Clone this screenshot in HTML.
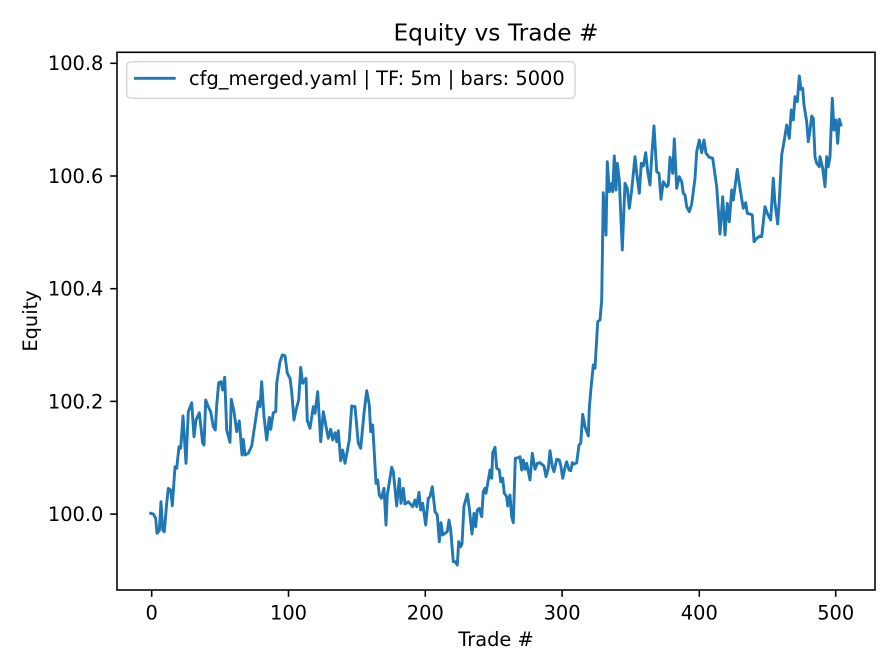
<!DOCTYPE html>
<html>
<head>
<meta charset="utf-8">
<style>
html,body{margin:0;padding:0;background:#fff;}
svg{display:block;}
text{font-family:"DejaVu Sans","Liberation Sans",sans-serif;fill:#000;}
</style>
</head>
<body>
<svg width="896" height="672" viewBox="0 0 896 672" xmlns="http://www.w3.org/2000/svg">
<rect x="0" y="0" width="896" height="672" fill="#fff"/>
<!-- data line -->
<polyline fill="none" stroke="#1f77b4" stroke-width="2.9" stroke-linejoin="round" stroke-linecap="square" points="
150.7,513.3 153.3,514 155.7,518.3 157,533.3 159.3,530.7 161,501.7 162.7,530 164.3,531.7 166.7,503.3 168.3,488.3 170.7,490 172.3,505.7 175,466.7 176.7,468.3 179,446.7 180.7,448.3 183,416 186,463.3 188.3,411.7 191.7,402.7 194,436.7 196,420 199.3,412.7 202.7,443.3 204,445 205.7,400 208.3,406.7 210.7,411.7 213.3,426.7 215.3,430 216.7,405 218.7,382.7 221,381.7 222.7,390 224.7,377.3 226.7,430 230,442.3 231.3,399.3 234,411.7 236.7,431.7 239.3,421 242,455 243.3,439.3 245,455 248.3,453.3 251.7,446 258.3,401.7 260,406.7 261.7,381.7 264,416.7 266.7,440 269.3,417.3 270.7,429.3 273.3,412.7 275.7,411.7 276.7,383.3 280,361.7 282.3,355 285,355.7 287.3,373.3 290,378.3 291.7,391.7 294,420 296,410 298.7,400 300.7,367.3 302.7,383.3 306,378.3 307.3,420.7 310,428.3 313.3,406.7 315,413.3 317.7,391.7 320.7,441.7 323.3,411.7 326.7,430 328.3,438.3 330.7,429.3 332.7,440 335,432.7 336.7,441.7 338.3,430.7 340.7,460.7 342.7,450 345,463.3 349.3,440 351.7,406 355,406.7 358.3,443.3 360.7,448.3 364,413.3 366.7,390.7 369.3,405 370.7,431.7 372.7,425 376,483.3 377.7,480 379.3,495 381.3,498.3 382.7,493.3 384,488.3 386,525 387.3,495 391.7,467.3 393.3,471.7 396.7,506 399.3,478.7 401,503.3 403.3,488.3 405,504 408.3,501.7 412.7,506.7 415,500 416.7,506.7 419,492.3 420.7,510 422.7,503.3 425.7,525 428.3,498.3 430,496.7 432.3,486.7 435,511.7 437.3,515 439.3,541.7 441,522.7 442.7,535 445,533.3 447.3,531.7 449,520 450.7,530 453.3,561.7 455.3,561.7 457.3,565 458.7,541.7 460.7,546.7 462,544 464,506 467.3,494 469.3,508.3 472,534 474,513.3 475.7,526.7 477.3,510 479.3,508.3 481.7,516.7 483.3,491.7 485,488.3 486,493.3 488.3,480 490,470 491.7,478.3 492.7,452.7 495,447.3 496.7,468.3 499.3,470 500.7,481.7 502.7,478.3 504.3,493.3 506.7,496.7 507.7,506 510,495 511.7,516.7 513.3,522.7 515.3,458.3 518.3,457.7 520,456.7 521.7,470 523.3,460 525,469.3 526.7,463.3 530,480 532.3,453.3 535,469.3 537.3,463.3 540,462.7 544,466 546,476.7 548.3,468.3 550,450.7 552.3,466.7 554,471.7 556.7,459.3 559.3,460 561,466.7 562.7,478.3 565,467.3 566.7,461.7 569,470 570.7,470.7 572.3,462.7 574,464.3 576.7,462.7 579,445 580.7,443.3 582.7,414.3 585,426.7 588.3,436 589.3,408.3 591,388.3 593.3,365 595,368.3 597.7,321.7 600,320 601.7,300 603.3,192.7 606,235 607.3,161.7 609.3,191.7 611.7,183.3 612.7,191.7 614.3,156 616,190 617.3,163.3 619.3,180 622.3,250 625,183.3 627.3,188.3 629.3,208.3 631.7,190 635,156.7 636.7,173.3 639.3,193.3 641.3,163.3 643.3,166 645.7,152.7 647.7,171.7 650,185 651.7,156.7 654,126 656.7,171.7 659,173.3 661,199.3 663.3,181.7 666.7,186.7 668.3,185 670,157.3 672.7,173.3 674.3,139 676.7,188.3 679.3,176.7 681.7,181.7 683.3,193.3 685,195 686.7,206.7 689.3,211.7 691.7,204 695,178.3 696.7,151.7 699.3,140 701.7,152.7 704,140 706,153.3 709.3,157.3 712.7,158.3 716.7,186.7 720,234 722.7,196.7 725,235 727.3,203.3 729.3,221.7 731.7,190 733.3,200 737.3,169.3 740,188.3 743.3,208.3 745.7,202.7 747.3,213.3 750,214 752.3,215 754,241.7 756.7,238.3 760,236 761.7,236.7 765,206.7 767.3,213.3 770.7,220 773.3,178.3 775,203.3 777.7,224 779.3,200 781.7,155 784.3,140 786.7,125 789.3,138.3 791.3,110 793.3,120 795,96.7 797.3,101.7 799.3,76 801,89.3 802.7,88.3 804,105 806.7,121.7 808.3,141.7 810,130 811.7,116 813.3,118.3 815,156.7 816.7,163.3 819.3,166.7 820,156.7 822.7,168.3 825,186.7 826.7,156.7 828.3,166.7 830,156.7 832.3,98.3 834,130 836,120 837.7,143.3 839.3,119.3 841,125
"/>
<!-- axes frame -->
<rect x="117" y="52.3" width="758" height="537.7" fill="none" stroke="#000" stroke-width="1.56"/>
<!-- x ticks -->
<g stroke="#000" stroke-width="1.56">
<line x1="151.7" y1="590" x2="151.7" y2="596.8"/>
<line x1="288.5" y1="590" x2="288.5" y2="596.8"/>
<line x1="425.3" y1="590" x2="425.3" y2="596.8"/>
<line x1="562.1" y1="590" x2="562.1" y2="596.8"/>
<line x1="699.3" y1="590" x2="699.3" y2="596.8"/>
<line x1="835.7" y1="590" x2="835.7" y2="596.8"/>
<line x1="117" y1="514.1" x2="110.2" y2="514.1"/>
<line x1="117" y1="401.4" x2="110.2" y2="401.4"/>
<line x1="117" y1="288.7" x2="110.2" y2="288.7"/>
<line x1="117" y1="176" x2="110.2" y2="176"/>
<line x1="117" y1="63.3" x2="110.2" y2="63.3"/>
</g>
<g font-size="19.4" text-anchor="middle">
<text x="151.7" y="619.5">0</text>
<text x="288.5" y="619.5">100</text>
<text x="425.3" y="619.5">200</text>
<text x="562.1" y="619.5">300</text>
<text x="699.3" y="619.5">400</text>
<text x="835.7" y="619.5">500</text>
</g>
<g font-size="19.4" text-anchor="end">
<text x="103.4" y="521">100.0</text>
<text x="103.4" y="408.3">100.2</text>
<text x="103.4" y="295.6">100.4</text>
<text x="103.4" y="182.9">100.6</text>
<text x="103.4" y="70.2">100.8</text>
</g>
<text x="496" y="646" font-size="19.4" text-anchor="middle">Trade #</text>
<text transform="translate(37,321) rotate(-90)" font-size="19.4" text-anchor="middle">Equity</text>
<text x="496" y="40.7" font-size="23.3" text-anchor="middle">Equity vs Trade #</text>
<!-- legend -->
<rect x="126.7" y="61.7" width="448.3" height="36.6" rx="4" ry="4" fill="#fff" fill-opacity="0.8" stroke="#d4d4d4" stroke-width="1.4"/>
<line x1="134" y1="78.3" x2="175.7" y2="78.3" stroke="#1f77b4" stroke-width="2.9"/>
<text x="189" y="85" font-size="19.4">cfg_merged.yaml | TF: 5m | bars: 5000</text>
</svg>
</body>
</html>
